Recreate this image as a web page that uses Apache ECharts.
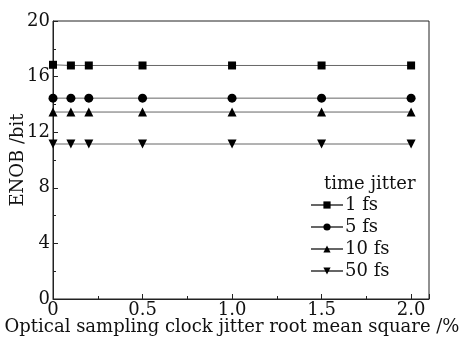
<!DOCTYPE html>
<html><head><meta charset="utf-8">
<script src="https://cdn.jsdelivr.net/npm/echarts@6/dist/echarts.min.js"></script>
<style>html,body{margin:0;padding:0;background:#fff}#c{width:464px;height:344px}</style>
</head><body><div id="c"></div>
<script>
const xValues = [0, 0.1, 0.2, 0.5, 1.0, 1.5, 2.0];
const enob1fs = [16.85, 16.8, 16.8, 16.8, 16.8, 16.8, 16.8];
const enob5fs = [14.45, 14.45, 14.45, 14.45, 14.45, 14.45, 14.45];
const enob10fs = [13.45, 13.45, 13.45, 13.45, 13.45, 13.45, 13.45];
const enob50fs = [11.15, 11.15, 11.15, 11.15, 11.15, 11.15, 11.15];
const seriesNames = ['1 fs', '5 fs', '10 fs', '50 fs'];
const legendTitle = 'time jitter';
const xTitle = 'Optical sampling clock jitter root mean square /%';
const yTitle = 'ENOB /bit';

const FONT = 'DejaVu Serif';
const chart = echarts.init(document.getElementById('c'), null, {renderer: 'canvas'});
const toPairs = arr => xValues.map((x, i) => [x, arr[i]]);
const symbols = ['rect', 'circle', 'triangle', 'triangle'];
const rot = [0, 0, 0, 180];
const sizes = [8, 9, 9, 9];
const all = [enob1fs, enob5fs, enob10fs, enob50fs];
const series = all.map((d, i) => ({
  name: seriesNames[i], type: 'line', data: toPairs(d),
  symbol: symbols[i], symbolSize: sizes[i], symbolRotate: rot[i],
  showAllSymbol: true, clip: false,
  lineStyle: {color: '#666', width: 1},
  itemStyle: {color: '#000', borderWidth: 0},
  emphasis: {disabled: true}
}));
chart.setOption({
  animation: false,
  grid: {left: 53, top: 21, right: 35, bottom: 45, containLabel: false, outerBoundsMode: 'none',
    show: true, borderColor: '#222', borderWidth: 1},
  xAxis: {
    type: 'value', min: 0, max: 2.1, interval: 0.5,
    axisLine: {lineStyle: {color: '#222', width: 1}},
    axisTick: {inside: true, length: 5, lineStyle: {color: '#222'}},
    minorTick: {show: true, splitNumber: 2, length: 3, lineStyle: {color: '#222'}},
    splitLine: {show: false},
    axisLabel: {fontFamily: FONT, fontSize: 18, color: '#111', margin: 2,
      formatter: v => (v === 0 ? '0' : v.toFixed(1)),
      showMaxLabel: false},
    name: xTitle, nameLocation: 'middle', nameGap: 19, nameMoveOverlap: false,
    nameTextStyle: {fontFamily: FONT, fontSize: 18, color: '#111', padding: [0, 18, 0, 0]}
  },
  yAxis: {
    type: 'value', min: 0, max: 20, interval: 4,
    axisLine: {show: true, lineStyle: {color: '#222', width: 1}},
    axisTick: {show: true, inside: true, length: 5, lineStyle: {color: '#222'}},
    minorTick: {show: true, splitNumber: 2, length: 3, lineStyle: {color: '#222'}},
    splitLine: {show: false},
    axisLabel: {fontFamily: FONT, fontSize: 18, color: '#111', margin: 3},
    name: yTitle, nameLocation: 'middle', nameGap: 26, nameMoveOverlap: false,
    nameTextStyle: {fontFamily: FONT, fontSize: 18, color: '#111'}
  },
  legend: {
    orient: 'vertical', left: 310, top: 196, itemGap: 4, itemWidth: 32, itemHeight: 9,
    data: seriesNames,
    textStyle: {fontFamily: FONT, fontSize: 18, color: '#111', padding: [0, 0, 0, -3]},
    padding: 0
  },
  graphic: [{type: 'text', left: 324, top: 175, style: {text: legendTitle, font: '18px "DejaVu Serif"', fill: '#111'}}],
  series
});
</script></body></html>
